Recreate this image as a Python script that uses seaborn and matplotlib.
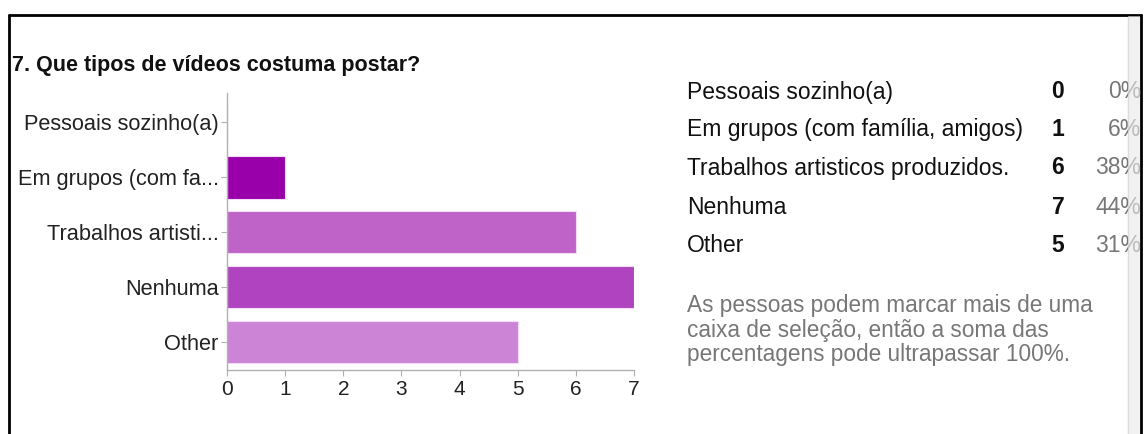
import matplotlib
matplotlib.use("Agg")
import matplotlib.pyplot as plt
import seaborn as sns
import pandas as pd
from matplotlib.patches import Rectangle

# data
categories = ["Pessoais sozinho(a)", "Em grupos (com família, amigos)",
              "Trabalhos artisticos produzidos.", "Nenhuma", "Other"]
tick_labels = ["Pessoais sozinho(a)", "Em grupos (com fa...", "Trabalhos artisti...",
               "Nenhuma", "Other"]
counts = [0, 1, 6, 7, 5]
percents = ["0%", "6%", "38%", "44%", "31%"]
bar_colors = ["#990099", "#9900aa", "#c063c9", "#b043bf", "#cc84d6"]
title = "7. Que tipos de vídeos costuma postar?"
note = ("As pessoas podem marcar mais de uma\n"
        "caixa de seleção, então a soma das\n"
        "percentagens pode ultrapassar 100%.")

df = pd.DataFrame({"cat": categories, "n": counts})

sns.set_style("white")
plt.rcParams["font.family"] = ["Liberation Sans", "DejaVu Sans"]

W, H = 1144, 434
fig = plt.figure(figsize=(W / 100, H / 100), dpi=100)

def fx(px):
    return px / W

def fy(py):
    return 1 - py / H

ax = fig.add_axes([fx(227), fy(370), fx(634) - fx(227), fy(93) - fy(370)])
sns.barplot(data=df, y="cat", x="n", hue="cat", palette=bar_colors, legend=False,
            orient="h", width=0.78, saturation=1, edgecolor="#f3dcf6", linewidth=0.8,
            ax=ax)
ax.set_xlim(0, 7)
ax.set_ylim(4.51, -0.53)
ax.set_xticks(range(8))
ax.set_yticks(range(len(tick_labels)))
ax.set_yticklabels(tick_labels)
ax.set_xlabel("")
ax.set_ylabel("")
for s in ["top", "right"]:
    ax.spines[s].set_visible(False)
ax.spines["left"].set_color("#b0b0b0")
ax.spines["bottom"].set_color("#b0b0b0")
ax.spines["left"].set_linewidth(1)
ax.spines["bottom"].set_linewidth(1)
ax.tick_params(axis="y", length=4, color="#b0b0b0", labelsize=15.7, pad=2, left=True,
               labelcolor="#222222")
ax.tick_params(axis="x", length=4, color="#b0b0b0", labelsize=15, pad=3, bottom=True,
               labelcolor="#222222")

fig.text(fx(12), fy(65), title, fontsize=15.5, fontweight="bold", va="center",
         ha="left", color="#111111")

row_y = [92, 130, 168, 207, 245]
for y, c, n, p in zip(row_y, categories, counts, percents):
    fig.text(fx(687), fy(y), c, fontsize=16.5, va="center", ha="left", color="#111111")
    fig.text(fx(1058), fy(y), str(n), fontsize=16.5, fontweight="bold", va="center",
             ha="center", color="#111111")
    fig.text(fx(1141), fy(y), p, fontsize=16.5, va="center", ha="right", color="#777777")

fig.text(fx(687), fy(330), note, fontsize=16.3, va="center", ha="left",
         color="#777777", linespacing=1.1)

# frame and scrollbar strip
fig.patches.append(Rectangle((fx(1128), 0), fx(12), fy(16), transform=fig.transFigure,
                             facecolor="#e8e8e8", edgecolor="none", alpha=0.6, zorder=5))
fig.lines.append(plt.Line2D([fx(1128), fx(1128)], [0, fy(16)], transform=fig.transFigure,
                            color="#cccccc", lw=1))
fig.lines.append(plt.Line2D([fx(9), fx(9)], [0, fy(15)], transform=fig.transFigure,
                            color="black", lw=2))
fig.lines.append(plt.Line2D([fx(9), fx(1141)], [fy(15), fy(15)], transform=fig.transFigure,
                            color="black", lw=2))
fig.lines.append(plt.Line2D([fx(1141), fx(1141)], [0, fy(15)], transform=fig.transFigure,
                            color="black", lw=2))

fig.savefig("out.png", dpi=100)
